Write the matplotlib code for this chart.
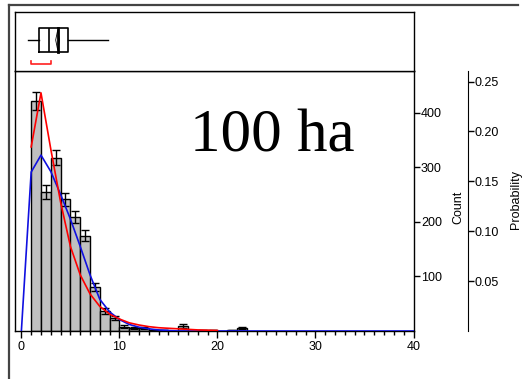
import matplotlib
matplotlib.use('Agg')
import matplotlib.pyplot as plt
from matplotlib.lines import Line2D
from matplotlib.patches import Polygon

# histogram bins (left edge, width 1) and counts
bin_left = list(range(1, 23))
counts = [421, 255, 317, 241, 208, 174, 80, 37, 24, 8, 5, 5, 1, 1, 0, 9, 0, 1, 1, 0, 1, 6]
errs = [16, 13, 14, 12, 11, 10, 7, 5, 4, 3, 2, 2, 1, 1, 0, 3, 0, 1, 1, 0, 1, 2]

# fitted curves (count scale)
red_x = list(range(1, 21))
red_y = [337, 436, 333, 236, 155, 103, 68, 45, 31, 22, 15, 11, 8, 6, 5, 4, 3, 2, 1.5, 1]
blue_x = list(range(0, 41))
blue_y = [0, 291, 322, 292, 250, 205, 155, 103, 58, 35, 21, 12, 7, 4, 2, 1] + [0] * 25

# box plot summary
box_stats = dict(whislo=0.7, q1=1.79, med=2.84, q3=4.78, whishi=8.8)
mean_val = 3.70
mean_ci = 0.2
short_half = (0.94, 2.98)

count_ticks = [100, 200, 300, 400]
prob_ticks = [0.05, 0.10, 0.15, 0.20, 0.25]
label = '100 ha'

plt.rcParams['font.family'] = ['Liberation Sans', 'DejaVu Sans']
W, H = 522, 379
fig = plt.figure(figsize=(W / 100, H / 100), dpi=100)

L, R = 15 / W, 414 / W
ax = fig.add_axes([L, 1 - 331 / H, R - L, (331 - 71) / H])
axb = fig.add_axes([L, 1 - 71 / H, R - L, (71 - 12) / H])

# histogram
ax.bar(bin_left, counts, width=1, align='edge', color='#c0c0c0', edgecolor='black', linewidth=1, zorder=2)
cx = [b + 0.5 for b, c in zip(bin_left, counts) if c > 0]
cy = [c for c in counts if c > 0]
ce = [e for e, c in zip(errs, counts) if c > 0]
ax.errorbar(cx, cy, yerr=ce, fmt='none', ecolor='black', elinewidth=1, capsize=3, capthick=1, zorder=3)
ax.plot(blue_x, blue_y, color='#1010e0', lw=1.2, zorder=4)
ax.plot(red_x, red_y, color='#ff0000', lw=1.2, zorder=5)

# probability axis (twinx resets the count ticks to the left, so set those after)
axp = ax.twinx()
axp.set_ylim(0, 0.2606)
axp.spines['right'].set_position(('axes', (468 - 15) / 399))
for k in ['left', 'top', 'bottom']:
    axp.spines[k].set_visible(False)
axp.set_yticks(prob_ticks)
axp.set_yticklabels([f'{t:.2f}' for t in prob_ticks])
axp.tick_params(axis='y', length=4, width=1, pad=1, labelsize=9)
axp.set_ylabel('Probability', fontsize=9)
axp.yaxis.set_label_coords((510 - 15) / 399, 0.504)

ax.set_xlim(-0.65, 40.05)
ax.set_ylim(0, 476)
ax.set_xticks([0, 10, 20, 30, 40])
ax.set_xticks(range(0, 41), minor=True)
ax.tick_params(axis='x', which='major', length=5, width=1, pad=2, labelsize=9)
ax.tick_params(axis='x', which='minor', length=3, width=1)
ax.yaxis.tick_right()
ax.set_yticks(count_ticks)
ax.tick_params(axis='y', length=4, width=1, pad=1, labelsize=9)
ax.set_ylabel('Count', fontsize=9)
ax.yaxis.set_label_position('right')
ax.yaxis.set_label_coords((452 - 15) / 399, 0.477)
for s in ax.spines.values():
    s.set_linewidth(1)

ax.text(0.645, 0.692, label, transform=ax.transAxes, ha='center', va='baseline',
        fontsize=44, family='Liberation Serif')

# box panel
st = dict(box_stats, fliers=[])
axb.bxp([st], vert=False, positions=[0.525], widths=0.4, showcaps=False, showfliers=False,
        boxprops=dict(color='black', lw=1.2), whiskerprops=dict(color='black', lw=1),
        medianprops=dict(color='black', lw=1.2))
axb.plot([mean_val, mean_val], [0.325, 0.725], color='black', lw=2)
axb.add_patch(Polygon([[mean_val - mean_ci, 0.525], [mean_val, 0.69], [mean_val + mean_ci, 0.525],
                       [mean_val, 0.36]], closed=True, fill=False, edgecolor='black', lw=0.6))
axb.plot([short_half[0], short_half[0], short_half[1], short_half[1]],
         [0.175, 0.119, 0.119, 0.175], color='#ff2020', lw=1.2)
axb.set_xlim(ax.get_xlim())
axb.set_ylim(0, 1)
axb.set_xticks([])
axb.set_yticks([])
for s in axb.spines.values():
    s.set_linewidth(1)

# outer frame
fig.add_artist(Line2D([9 / W, 518 / W], [1 - 5 / H, 1 - 5 / H], color='#444444', lw=1.6))
fig.add_artist(Line2D([9 / W, 9 / W], [0, 1 - 5 / H], color='#444444', lw=1.6))

fig.savefig('out.png', dpi=100)
